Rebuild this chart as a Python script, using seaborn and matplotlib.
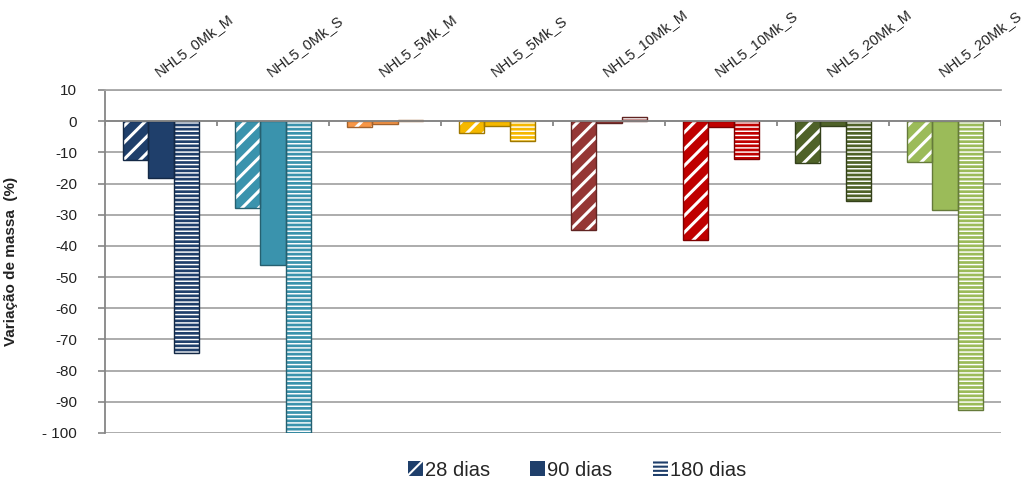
import numpy as np
import pandas as pd
import matplotlib
matplotlib.use("Agg")
import matplotlib.pyplot as plt
import matplotlib.colors as mcolors
from matplotlib.patches import Patch, Rectangle
import seaborn as sns

# --- data -------------------------------------------------------------
samples = ["NHL5_0Mk_M", "NHL5_0Mk_S", "NHL5_5Mk_M", "NHL5_5Mk_S",
           "NHL5_10Mk_M", "NHL5_10Mk_S", "NHL5_20Mk_M", "NHL5_20Mk_S"]
periods = ["28 dias", "90 dias", "180 dias"]
var_28 = [-12.5, -28.0, -1.8, -3.8, -35.0, -38.0, -13.5, -13.0]
var_90 = [-18.3, -46.0, -0.8, -1.5, -0.5, -1.8, -1.5, -28.5]
var_180 = [-74.5, -100.0, 0.5, -6.5, 1.5, -12.0, -25.5, -92.5]
ytick_values = [10, 0, -10, -20, -30, -40, -50, -60, -70, -80, -90, -100]
ytick_labels = ["10", "0", "-10", "-20", "-30", "-40", "-50", "-60",
                "-70", "-80", "-90", "- 100"]

# --- style ------------------------------------------------------------
sample_colors = ["#1F3F6B", "#3A93AD", "#F79646", "#F5B800",
                 "#953735", "#C00000", "#4F6228", "#9BBB59"]
period_hatches = ["//", "", "----"]
hatch_widths = [2.2, 1.0, 1.05]
grid_gray = "#A6A6A6"
axis_gray = "#868686"

sns.set_theme(style="white")
plt.rcParams["font.family"] = ["Liberation Sans", "DejaVu Sans"]
plt.rcParams["hatch.linewidth"] = 1.5

df = pd.DataFrame({
    "amostra": samples * 3,
    "periodo": np.repeat(periods, len(samples)),
    "variacao": var_28 + var_90 + var_180,
})

fig = plt.figure(figsize=(10.29, 4.84), dpi=100)
ax = fig.add_axes([105 / 1029, 1 - 433 / 484, 896 / 1029, 343 / 484])

sns.barplot(data=df, x="amostra", y="variacao", hue="periodo",
            order=samples, hue_order=periods, width=0.68, gap=0,
            errorbar=None, saturation=1, legend=False, ax=ax)


def darker(c, f=0.65):
    r, g, b = mcolors.to_rgb(c)
    return (r * f, g * f, b * f)


def stripe(patch, hatch, width):
    patch.set_hatch(hatch)
    if hasattr(patch, "set_hatch_linewidth"):
        patch.set_hatch_linewidth(width)
    elif hasattr(patch, "_hatch_linewidth"):
        patch._hatch_linewidth = width


# recolour each bar by sample, with white stripes per period
for k, container in enumerate(ax.containers):
    for j, bar in enumerate(container):
        col = sample_colors[j]
        bar.set_facecolor(col)
        bar.set_edgecolor("white")
        bar.set_linewidth(0)
        stripe(bar, period_hatches[k], hatch_widths[k])
        x0, y0 = bar.get_xy()
        ax.add_patch(Rectangle((x0, y0), bar.get_width(), bar.get_height(),
                               fill=False, edgecolor=darker(col),
                               linewidth=1.0, zorder=bar.get_zorder() + 0.1))

# axes, grid and zero line
ax.set_xlim(-0.5, len(samples) - 0.5)
ax.set_ylim(-100, 10)
ax.set_yticks(ytick_values)
ax.set_yticklabels(ytick_labels, fontsize=11, color="#222222")
ax.grid(axis="y", color=grid_gray, linewidth=1.3)
ax.set_axisbelow(True)
for side in ["right", "bottom"]:
    ax.spines[side].set_visible(False)
ax.spines["top"].set_color(grid_gray)
ax.spines["top"].set_linewidth(1.3)
ax.spines["left"].set_color(axis_gray)
ax.spines["left"].set_linewidth(1.3)
ax.tick_params(axis="y", direction="out", length=5, width=1.2,
               color=axis_gray, pad=15, left=True)

ax.axhline(0, color=axis_gray, linewidth=1.3, zorder=1.5)
ax.vlines(np.arange(len(samples) + 1) - 0.5, -1.6, 0,
          color=axis_gray, linewidth=1.3, zorder=1.5)

# sample names above the plot, slanted
ax.xaxis.set_ticks_position("top")
ax.set_xticks(range(len(samples)))
ax.set_xticklabels(samples, fontsize=10.5, color="#222222", rotation=37,
                   ha="left", va="bottom", rotation_mode="anchor")
ax.tick_params(axis="x", length=0, pad=8, top=True, bottom=False)
ax.set_xlabel("")

ax.set_ylabel("Variação de massa  (%)", fontsize=11, fontweight="bold",
              color="#222222")
ax.yaxis.set_label_coords(-0.097, 0.5)

# legend
legend_color = "#1F3F6B"
handles = []
for h, w in zip(period_hatches, hatch_widths):
    p = Patch(facecolor=legend_color, edgecolor="white", linewidth=0)
    stripe(p, h, w)
    handles.append(p)
fig.legend(handles, periods, loc="center", bbox_to_anchor=(577 / 1029, 14 / 484),
           ncol=3, frameon=False, fontsize=14.5, handlelength=0.75,
           handleheight=0.75, handletextpad=0.1, columnspacing=2.0)

fig.savefig("out.png", dpi=100)
